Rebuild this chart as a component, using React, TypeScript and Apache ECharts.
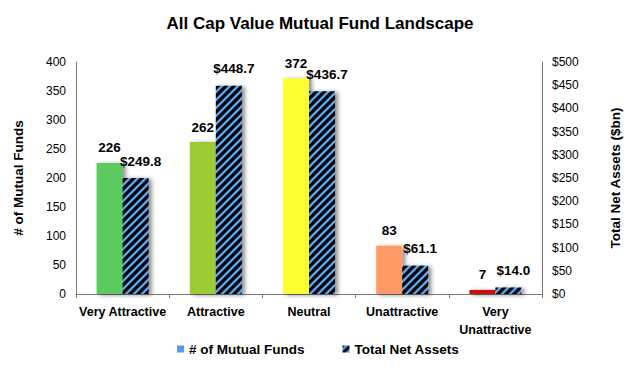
import React, { useEffect, useRef } from "react";
import * as echarts from "echarts";

const categories = ["Very Attractive", "Attractive", "Neutral", "Unattractive", "Very\nUnattractive"];
const fundCounts = [226, 262, 372, 83, 7];
const netAssets = [249.8, 448.7, 436.7, 61.1, 14.0];
const fundColors = ["#5CCB5F", "#9BCB34", "#FFFF33", "#FF9A66", "#CC1111"];

function makeHatch(): HTMLCanvasElement {
  const c = document.createElement("canvas");
  c.width = 8;
  c.height = 8;
  const ctx = c.getContext("2d")!;
  ctx.fillStyle = "#5AA5F0";
  ctx.fillRect(0, 0, 8, 8);
  ctx.strokeStyle = "#000";
  ctx.lineWidth = 3.2;
  ctx.lineCap = "square";
  ctx.beginPath();
  ctx.moveTo(-2, 10);
  ctx.lineTo(10, -2);
  ctx.moveTo(-6, 6);
  ctx.lineTo(6, -6);
  ctx.moveTo(2, 14);
  ctx.lineTo(14, 2);
  ctx.stroke();
  return c;
}

export default function App() {
  const ref = useRef<HTMLDivElement>(null);
  useEffect(() => {
    if (!ref.current) return;
    const chart = echarts.init(ref.current, null, { renderer: "svg" });
    const font = "Liberation Sans, Arial, sans-serif";
    const shadow = { shadowColor: "rgba(0,0,0,0.45)", shadowBlur: 4, shadowOffsetX: 3, shadowOffsetY: 1 };
    const hatch = makeHatch();
    chart.setOption({
      animation: false,
      textStyle: { fontFamily: font },
      title: {
        text: "All Cap Value Mutual Fund Landscape",
        left: 315,
        top: 10,
        textAlign: "center",
        textStyle: { fontSize: 17, fontWeight: "bold", color: "#000", fontFamily: font },
      },
      legend: {
        bottom: 7,
        left: 172,
        itemWidth: 7,
        itemHeight: 7,
        itemGap: 38,
        icon: "rect",
        textStyle: { fontSize: 13.5, fontWeight: "bold", color: "#000", fontFamily: font },
        data: ["# of Mutual Funds", "Total Net Assets"],
      },
      grid: { left: 76, right: 87, top: 62, bottom: 74 },
      xAxis: {
        type: "category",
        data: categories,
        axisLine: { lineStyle: { color: "#777" } },
        axisTick: { show: true, length: 4, lineStyle: { color: "#777" } },
        axisLabel: { fontSize: 12.5, fontWeight: "bold", color: "#000", margin: 9, lineHeight: 18, interval: 0 },
      },
      yAxis: [
        {
          type: "value",
          min: 0,
          max: 400,
          interval: 50,
          name: "# of Mutual Funds",
          nameLocation: "middle",
          nameGap: 51,
          nameTextStyle: { fontSize: 13.5, fontWeight: "bold", color: "#000" },
          axisLine: { show: true, lineStyle: { color: "#777" } },
          axisTick: { show: false },
          splitLine: { show: false },
          axisLabel: { fontSize: 12, color: "#000", margin: 10 },
        },
        {
          type: "value",
          min: 0,
          max: 500,
          interval: 50,
          name: "Total Net Assets ($bn)",
          nameLocation: "middle",
          nameGap: 66,
          nameRotate: 90,
          nameTextStyle: { fontSize: 13.5, fontWeight: "bold", color: "#000" },
          axisLine: { show: true, lineStyle: { color: "#777" } },
          axisTick: { show: false },
          splitLine: { show: false },
          axisLabel: { fontSize: 12, color: "#000", margin: 10, formatter: (v: number) => "$" + v },
        },
      ],
      series: [
        {
          name: "# of Mutual Funds",
          type: "bar",
          yAxisIndex: 0,
          barWidth: 26,
          barGap: "0%",
          itemStyle: { color: "#5599E8" },
          data: fundCounts.map((v, i) => ({ value: v, itemStyle: { color: fundColors[i], ...shadow } })),
          label: { show: true, position: "top", fontSize: 13.5, fontWeight: "bold", color: "#000", distance: 8 },
        },
        {
          name: "Total Net Assets",
          type: "bar",
          yAxisIndex: 1,
          barWidth: 26,
          itemStyle: {
            color: { image: hatch, repeat: "repeat" },
            ...shadow,
          },
          data: netAssets,
          label: {
            show: true,
            position: "top",
            fontSize: 13.5,
            fontWeight: "bold",
            color: "#000",
            distance: 10,
            offset: [5, 0],
            formatter: (p: any) => "$" + Number(p.value).toFixed(1),
          },
        },
      ],
    });
    return () => chart.dispose();
  }, []);
  return <div ref={ref} style={{ width: 630, height: 368, position: "absolute", left: 0, top: 0 }} />;
}
